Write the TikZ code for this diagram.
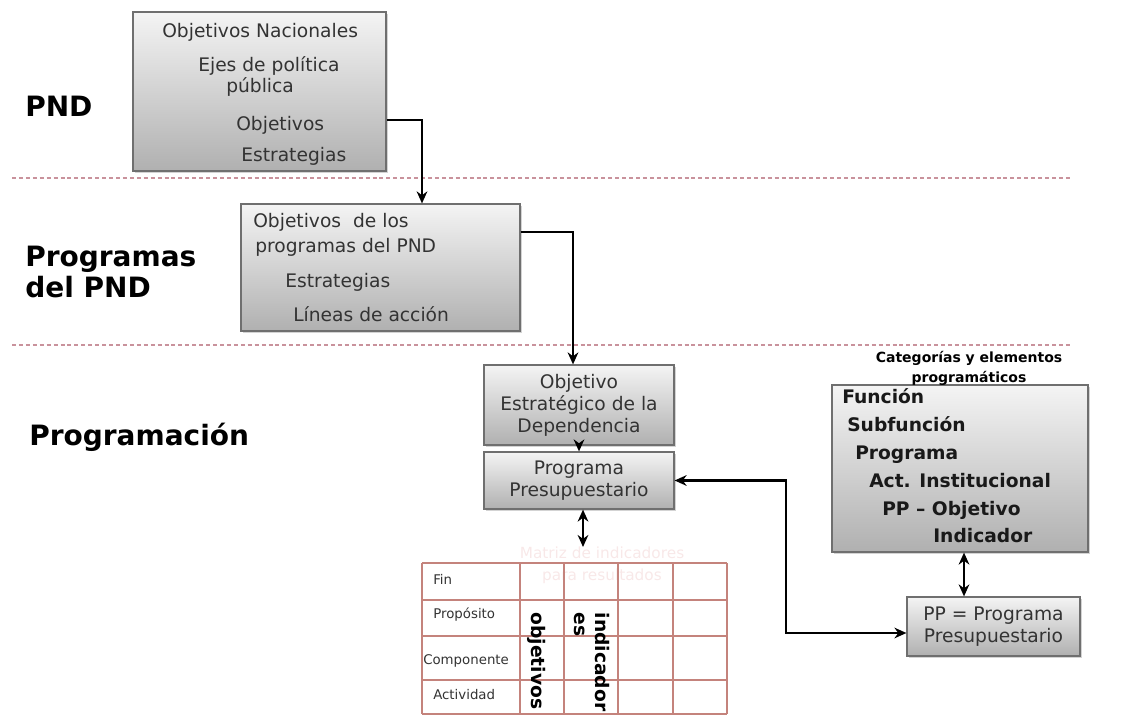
\documentclass[tikz,border=0pt]{standalone}
\usepackage{fontspec}
\setmainfont{DejaVu Sans}
\usetikzlibrary{arrows.meta,positioning,calc,fit,shadows}
\definecolor{boxline}{HTML}{6F6F6F}
\definecolor{boxtop}{HTML}{F4F4F4}
\definecolor{boxbot}{HTML}{B0B0B0}
\definecolor{inktext}{HTML}{333333}
\definecolor{sepline}{HTML}{C9929C}
\definecolor{gridline}{HTML}{C4837C}
\definecolor{ghost}{HTML}{F8E8E8}

\begin{document}
\begin{tikzpicture}[x=0.75pt,y=-0.75pt,
  graybox/.style={draw=boxline,line width=0.9pt,top color=boxtop,
    bottom color=boxbot,inner sep=0pt,
    drop shadow={shadow xshift=1.2pt,shadow yshift=-1.2pt,opacity=0.35}},
  boxtext/.style={font=\fontsize{14}{17}\selectfont,text=inktext,
    inner sep=0pt,anchor=base west},
  midtext/.style={font=\fontsize{14}{16.5}\selectfont,text=inktext,
    inner sep=0pt,align=center},
  cattext/.style={font=\bfseries\fontsize{14}{17}\selectfont,
    text=black!90,inner sep=0pt,anchor=base west},
  tiertitle/.style={font=\bfseries\fontsize{21}{25}\selectfont,
    inner sep=0pt,anchor=base west},
  rowtext/.style={font=\fontsize{10}{12}\selectfont,text=inktext,
    inner sep=0pt,anchor=base west},
  rottext/.style={font=\bfseries\fontsize{14}{16}\selectfont,
    rotate=-90,inner sep=0pt,align=left},
  conn/.style={line width=1.8pt,-{Stealth[length=9pt,width=8pt]}},
  twoway/.style={line width=1.8pt,
    {Stealth[length=9pt,width=8pt]}-{Stealth[length=9pt,width=8pt]}},
  sep/.style={sepline,line width=0.8pt,dash pattern=on 3pt off 2.2pt},
  grid/.style={gridline,line width=0.8pt}]
  \useasboundingbox (0,0) rectangle (1128,720);

  % tiers
  \draw[sep] (12,178) -- (1070,178);
  \draw[sep] (12,345) -- (1070,345);
  \node[tiertitle] (tpnd) at (25,117) {PND};
  \node[tiertitle] (tprog) at (25,267) {Programas};
  \node[tiertitle] (tprog2) at (25,298) {del PND};
  \node[tiertitle] (tpgm) at (29,445) {Programación};

  % boxes
  \node[graybox,fit={(133,12) (386,171)}] (pnd) {};
  \node[graybox,fit={(241,204) (520,331)}] (prog) {};
  \node[graybox,fit={(484,365) (674,445)}] (dep) {};
  \node[graybox,fit={(484,452) (674,509)}] (pp) {};
  \node[graybox,fit={(832,385) (1088,552)}] (cat) {};
  \node[graybox,fit={(907,597) (1080,656)}] (ppdef) {};

  % PND
  \node[boxtext] (n1) at (162,38) {Objetivos Nacionales};
  \node[boxtext] (n2) at (198,72) {Ejes de política};
  \node[boxtext] (n3) at (226,93) {pública};
  \node[boxtext] (n4) at (236,131) {Objetivos};
  \node[boxtext] (n5) at (241,162) {Estrategias};

  % programas del PND
  \node[boxtext] (p1) at (253,228) {Objetivos\ \ de los};
  \node[boxtext] (p2) at (255,253) {programas del PND};
  \node[boxtext] (p3) at (285,287) {Estrategias};
  \node[boxtext] (p4) at (293,321) {Líneas de acción};

  \node[midtext] (d1) at (dep) {Objetivo\\Estratégico de la\\Dependencia};
  \node[midtext] (q1) at (pp) {Programa\\Presupuestario};
  \node[midtext] (r1) at (ppdef) {PP = Programa\\Presupuestario};

  % categorias
  \node[font=\bfseries\fontsize{10.5}{15}\selectfont,align=center,
    inner sep=0pt,anchor=north] (cathead) at (969,351)
    {Categorías y elementos\\programáticos};
  \node[cattext] (c1) at (842,403) {Función};
  \node[cattext] (c2) at (847,431) {Subfunción};
  \node[cattext] (c3) at (855,459) {Programa};
  \node[cattext] (c4) at (869,487) {Act. Institucional};
  \node[cattext] (c5) at (882,515) {PP – Objetivo};
  \node[cattext] (c6) at (933,542) {Indicador};

  % matriz
  \node[font=\fontsize{11.5}{16}\selectfont,text=ghost,align=center,
    inner sep=0pt,anchor=north] (mir) at (602,547)
    {Matriz de indicadores\\para resultados};
  \foreach \gx in {422,520,564,618,673,727}
    \draw[grid] (\gx,563) -- (\gx,714);
  \foreach \gy in {563,600,636,680,714}
    \draw[grid] (422,\gy) -- (727,\gy);
  \node[rowtext] (m1) at (433,584) {Fin};
  \node[rowtext] (m2) at (433,618) {Propósito};
  \node[rowtext] (m3) at (423,664) {Componente};
  \node[rowtext] (m4) at (433,699) {Actividad};
  \node[rottext] (mobj) at (537,661) {objetivos};
  \node[rottext] (mind) at (592,662) {indicador\\es};

  % connectors
  \coordinate (k1) at (422,120);
  \coordinate (k2) at (573,232);
  \coordinate (bend) at (786,633);
  \draw[conn] (pnd.east |- k1) -| (prog.north -| k1);
  \draw[conn] (prog.east |- k2) -| (dep.north -| k2);
  \draw[conn] (dep.south) -- (pp.north);
  \draw[twoway] (pp.south -| 583,0) -- (mir.north -| 583,0);
  \draw[twoway] (cat.south -| 964,0) -- (ppdef.north -| 964,0);
  \draw[twoway] (pp.east) -| (bend) -- (ppdef.west |- bend);
\end{tikzpicture}
\end{document}
